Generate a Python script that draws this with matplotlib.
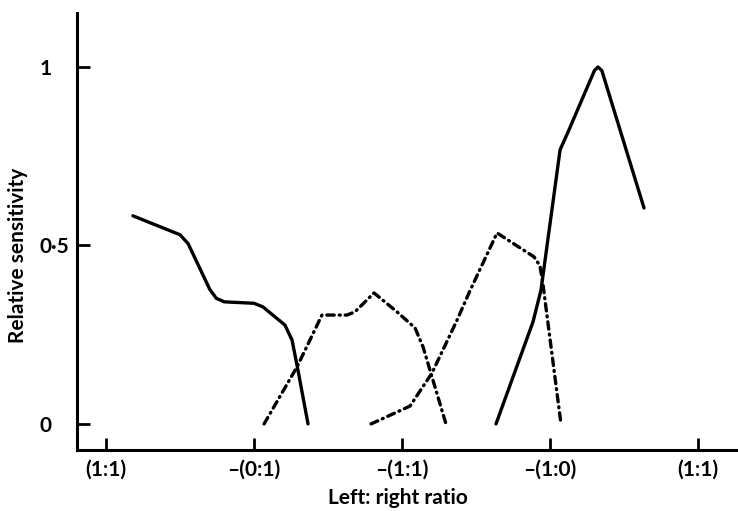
import matplotlib.pyplot as plt

# Datos (posicion en eje x en unidades de marca, sensibilidad relativa)
solido1_x = [0.182, 0.500, 0.555, 0.700, 0.745, 0.800, 1.000, 1.060, 1.209, 1.257, 1.297, 1.365]
solido1_y = [0.583, 0.530, 0.505, 0.378, 0.352, 0.342, 0.338, 0.328, 0.277, 0.235, 0.151, 0.0]

punteada1_x = [1.068, 1.291, 1.459, 1.628, 1.682, 1.811, 1.966, 2.088, 2.142, 2.297]
punteada1_y = [0.0, 0.160, 0.305, 0.305, 0.314, 0.367, 0.314, 0.269, 0.216, 0.0]

punteada2_x = [1.791, 2.054, 2.203, 2.372, 2.459, 2.642, 2.892, 2.932, 2.953, 3.014, 3.074]
punteada2_y = [0.0, 0.050, 0.143, 0.291, 0.373, 0.535, 0.468, 0.443, 0.389, 0.193, 0.0]

solido2_x = [2.635, 2.885, 2.939, 3.068, 3.122, 3.300, 3.324, 3.350, 3.635]
solido2_y = [0.0, 0.286, 0.375, 0.768, 0.818, 0.990, 1.0, 0.990, 0.605]

x_ticks = [0, 1, 2, 3, 4]
x_labels = ["(1:1)", "\u2013(0:1)", "\u2013(1:1)", "\u2013(1:0)", "(1:1)"]
y_ticks = [0, 0.5, 1]
y_labels = ["0", "0\u00b75", "1"]

plt.rcParams['font.family'] = ['Lato', 'DejaVu Sans']

fig = plt.figure(figsize=(7.38, 5.11), dpi=100)
ax = fig.add_axes([0.1043, 0.1194, 0.8957, 0.8557])

estilo = dict(color="black", lw=2.4, solid_joinstyle="round", solid_capstyle="round")
ax.plot(solido1_x, solido1_y, **estilo)
ax.plot(solido2_x, solido2_y, **estilo)

punto_raya = dict(color="black", lw=2.4, linestyle=(0, (2.2, 1.5, 0.3, 1.5)),
                  dash_capstyle="round", dash_joinstyle="round")
ax.plot(punteada1_x, punteada1_y, **punto_raya)
ax.plot(punteada2_x, punteada2_y, **punto_raya)

# Ejes
ax.set_xlim(-0.196, 4.27)
ax.set_ylim(-0.073, 1.152)
ax.spines["top"].set_visible(False)
ax.spines["right"].set_visible(False)
ax.spines["left"].set_linewidth(2.2)
ax.spines["bottom"].set_linewidth(2.2)

fuente = dict(fontsize=15, fontweight="bold")
ax.set_xticks(x_ticks)
ax.set_xticklabels(x_labels, **fuente)
ax.set_yticks(y_ticks)
ax.set_yticklabels(y_labels, ha="left", **fuente)
ax.tick_params(axis="x", direction="in", length=9, width=2, pad=7)
ax.tick_params(axis="y", direction="in", length=9, width=2, pad=27)

ax.set_xlabel("Left: right ratio", **fuente)
ax.set_ylabel("Relative sensitivity", **fuente)
ax.xaxis.set_label_coords(0.486, -0.11)
ax.yaxis.set_label_coords(-0.089, 0.446)
ax.xaxis.label.set_va("center")
ax.yaxis.label.set_va("center")

plt.savefig("out.png", dpi=100)
